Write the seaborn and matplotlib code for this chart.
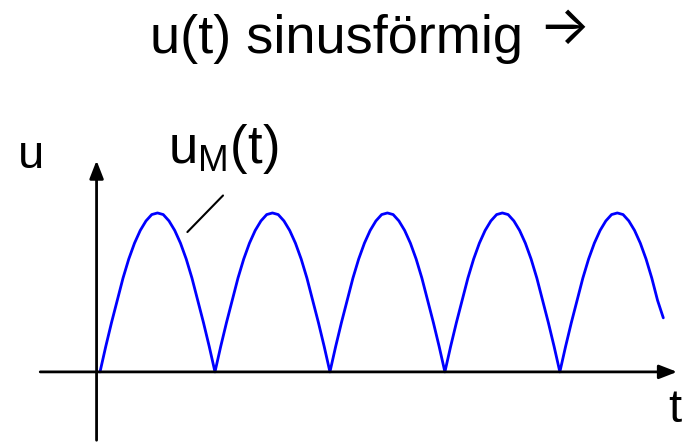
import numpy as np
import pandas as pd
import matplotlib
matplotlib.use("Agg")
import matplotlib.pyplot as plt
import seaborn as sns

sns.set_theme(style="white")
plt.rcParams['font.family'] = ['Liberation Sans', 'DejaVu Sans']
plt.rcParams['mathtext.default'] = 'regular'
plt.rcParams['text.color'] = 'black'

# rectified sine (t in periods, u relative to peak)
t = [0.00, 0.05, 0.10, 0.15, 0.20, 0.25, 0.30, 0.35, 0.40, 0.45,
     0.50, 0.55, 0.60, 0.65, 0.70, 0.75, 0.80, 0.85, 0.90, 0.95,
     1.00, 1.05, 1.10, 1.15, 1.20, 1.25, 1.30, 1.35, 1.40, 1.45,
     1.50, 1.55, 1.60, 1.65, 1.70, 1.75, 1.80, 1.85, 1.90, 1.95,
     2.00, 2.05, 2.10, 2.15, 2.20, 2.25, 2.30, 2.35, 2.40, 2.45,
     2.50, 2.55, 2.60, 2.65, 2.70, 2.75, 2.80, 2.85, 2.90, 2.95,
     3.00, 3.05, 3.10, 3.15, 3.20, 3.25, 3.30, 3.35, 3.40, 3.45,
     3.50, 3.55, 3.60, 3.65, 3.70, 3.75, 3.80, 3.85, 3.90, 3.95,
     4.00, 4.05, 4.10, 4.15, 4.20, 4.25, 4.30, 4.35, 4.40, 4.45,
     4.50, 4.55, 4.60, 4.65, 4.70, 4.75, 4.80, 4.85, 4.90]
u = [0.00, 0.16, 0.31, 0.45, 0.59, 0.71, 0.81, 0.89, 0.95, 0.99,
     1.00, 0.99, 0.95, 0.89, 0.81, 0.71, 0.59, 0.45, 0.31, 0.16,
     0.00, 0.16, 0.31, 0.45, 0.59, 0.71, 0.81, 0.89, 0.95, 0.99,
     1.00, 0.99, 0.95, 0.89, 0.81, 0.71, 0.59, 0.45, 0.31, 0.16,
     0.00, 0.16, 0.31, 0.45, 0.59, 0.71, 0.81, 0.89, 0.95, 0.99,
     1.00, 0.99, 0.95, 0.89, 0.81, 0.71, 0.59, 0.45, 0.31, 0.16,
     0.00, 0.16, 0.31, 0.45, 0.59, 0.71, 0.81, 0.89, 0.95, 0.99,
     1.00, 0.99, 0.95, 0.89, 0.81, 0.71, 0.59, 0.45, 0.31, 0.16,
     0.00, 0.16, 0.31, 0.45, 0.59, 0.71, 0.81, 0.89, 0.95, 0.99,
     1.00, 0.99, 0.95, 0.89, 0.81, 0.71, 0.59, 0.45, 0.34]

title = "u(t) sinusförmig"
title_arrow = "\u2192"
y_label = "u"
x_label = "t"
curve_label = "u$_M$(t)"

df = pd.DataFrame({"t": t, "u": u})

fig = plt.figure(figsize=(6.84, 4.45), dpi=100)
ax = fig.add_axes([0, 0, 1, 1])
sns.lineplot(data=df, x="t", y="u", color="#0000FF", linewidth=2.0, ax=ax)

ax.set_xlim(-0.87, 5.08)
ax.set_ylim(-0.46, 2.34)
ax.axis("off")

# axes with arrow heads
arrow = dict(arrowstyle="-|>,head_length=0.9,head_width=0.35", color="black",
             lw=2.0, shrinkA=0, shrinkB=0)
ax.annotate("", xy=(5.02, 0), xytext=(-0.52, 0), arrowprops=arrow)
ax.annotate("", xy=(-0.03, 1.33), xytext=(-0.03, -0.43), arrowprops=arrow)

# leader line to curve label
ax.plot([0.76, 1.07], [0.88, 1.11], color="black", lw=1.5)

fig.text(0.219, 0.912, title, ha="left", va="center", fontsize=39)
fig.text(0.824, 0.934, title_arrow, ha="center", va="center", fontsize=39,
         family=["Inter", "DejaVu Sans"])
ax.text(-0.6, 1.36, y_label, ha="center", va="center", fontsize=34)
ax.text(5.0, -0.24, x_label, ha="center", va="center", fontsize=34)
ax.text(1.07, 1.40, curve_label, ha="center", va="center", fontsize=38)

fig.savefig("out.png", dpi=100)
